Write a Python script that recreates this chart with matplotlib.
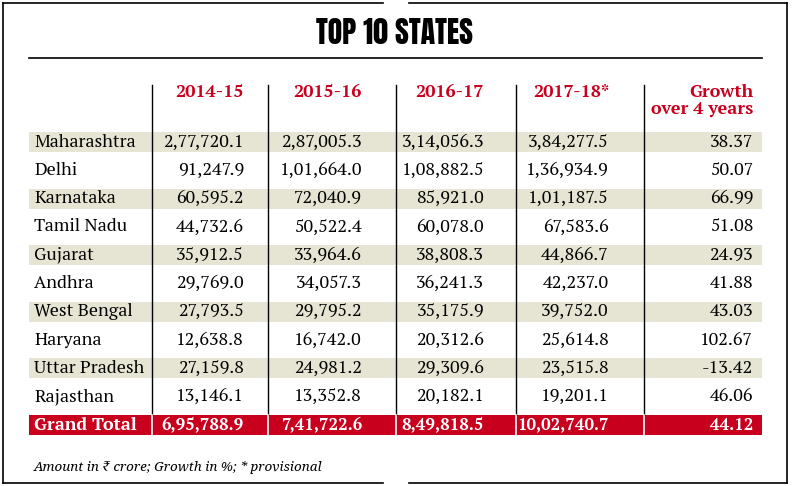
import matplotlib.pyplot as plt

states = ['Maharashtra', 'Delhi', 'Karnataka', 'Tamil Nadu', 'Gujarat', 'Andhra',
          'West Bengal', 'Haryana', 'Uttar Pradesh', 'Rajasthan']
y2014_15 = [277720.1, 91247.9, 60595.2, 44732.6, 35912.5, 29769.0, 27793.5, 12638.8, 27159.8, 13146.1]
y2015_16 = [287005.3, 101664.0, 72040.9, 50522.4, 33964.6, 34057.3, 29795.2, 16742.0, 24981.2, 13352.8]
y2016_17 = [314056.3, 108882.5, 85921.0, 60078.0, 38808.3, 36241.3, 35175.9, 20312.6, 29309.6, 20182.1]
y2017_18 = [384277.5, 136934.9, 101187.5, 67583.6, 44866.7, 42237.0, 39752.0, 25614.8, 23515.8, 19201.1]
growth = [38.37, 50.07, 66.99, 51.08, 24.93, 41.88, 43.03, 102.67, -13.42, 46.06]
total_label = 'Grand Total'
totals = [695788.9, 741722.6, 849818.5, 1002740.7]
total_growth = 44.12
headers = ['2014-15', '2015-16', '2016-17', '2017-18*', 'Growth\nover 4 years']


def inr(v):
    # Indian digit grouping: 10,02,740.7
    s = f'{v:.1f}'
    ip, dp = s.split('.')
    last3, rest = ip[-3:], ip[:-3]
    groups = []
    while len(rest) > 2:
        groups.insert(0, rest[-2:])
        rest = rest[:-2]
    if rest:
        groups.insert(0, rest)
    return ','.join(groups + [last3]) + '.' + dp


RED = '#c8001e'
BEIGE = '#e6e5d4'
SERIF = ['PT Serif', 'Liberation Serif', 'DejaVu Serif']
FS = 13

fig = plt.figure(figsize=(7.92, 4.86), dpi=100)
ax = fig.add_axes([0, 0, 1, 1])
ax.set_xlim(0, 792)
ax.set_ylim(486, 0)
ax.axis('off')

# outer frame (with small gaps top/bottom centre)
for y in (3, 483):
    ax.plot([3, 383], [y, y], color='black', lw=1.2)
    ax.plot([409, 787], [y, y], color='black', lw=1.2)
ax.plot([3, 3], [3, 483], color='black', lw=1.2)
ax.plot([787, 787], [3, 483], color='black', lw=1.2)

ax.text(394, 33, 'TOP 10 STATES', ha='center', va='center', fontsize=21.5,
        family=['Anton', 'Oswald', 'Liberation Sans Narrow', 'DejaVu Sans'])
ax.plot([29, 762], [58, 58], color='black', lw=1.2)

col_right = [244, 362, 484, 609, 753]
vlines = [152, 268, 396, 516, 644]
row0, pitch = 142, 28.3

# headers
for i, h in enumerate(headers):
    ax.text(col_right[i], 84, h, ha='right', va='top', color=RED, fontsize=FS,
            fontweight='bold', family=SERIF, linespacing=1.0)

# rows
for r, st in enumerate(states):
    y = row0 + r * pitch
    if r % 2 == 0:
        ax.fill_between([29, 762], y - 10, y + 10, color=BEIGE, lw=0)
    vals = [inr(y2014_15[r]), inr(y2015_16[r]), inr(y2016_17[r]), inr(y2017_18[r]), f'{growth[r]:.2f}']
    ax.text(34, y, st, ha='left', va='center', fontsize=FS, family=SERIF)
    for c, v in enumerate(vals):
        ax.text(col_right[c], y, v, ha='right', va='center', fontsize=FS, family=SERIF)

# grand total
yt = row0 + len(states) * pitch
ax.fill_between([29, 762], yt - 10, yt + 10, color=RED, lw=0)
ax.text(34, yt, total_label, ha='left', va='center', fontsize=FS, family=SERIF,
        color='white', fontweight='bold')
tvals = [inr(v) for v in totals] + [f'{total_growth:.2f}']
for c, v in enumerate(tvals):
    ax.text(col_right[c], yt, v, ha='right', va='center', fontsize=12.2, family=SERIF,
            color='white', fontweight='bold')

# column separators
for x in vlines:
    ax.plot([x, x], [85, yt - 10], color='black', lw=1)
    ax.plot([x, x], [yt - 10, yt + 10], color='white', lw=1.2)

ax.text(34, 467, 'Amount in \u20b9 crore; Growth in %; * provisional', ha='left', va='center',
        fontsize=9.7, style='italic', family=['Noto Serif', 'Liberation Serif', 'DejaVu Sans'])

fig.savefig('out.png', dpi=100)
